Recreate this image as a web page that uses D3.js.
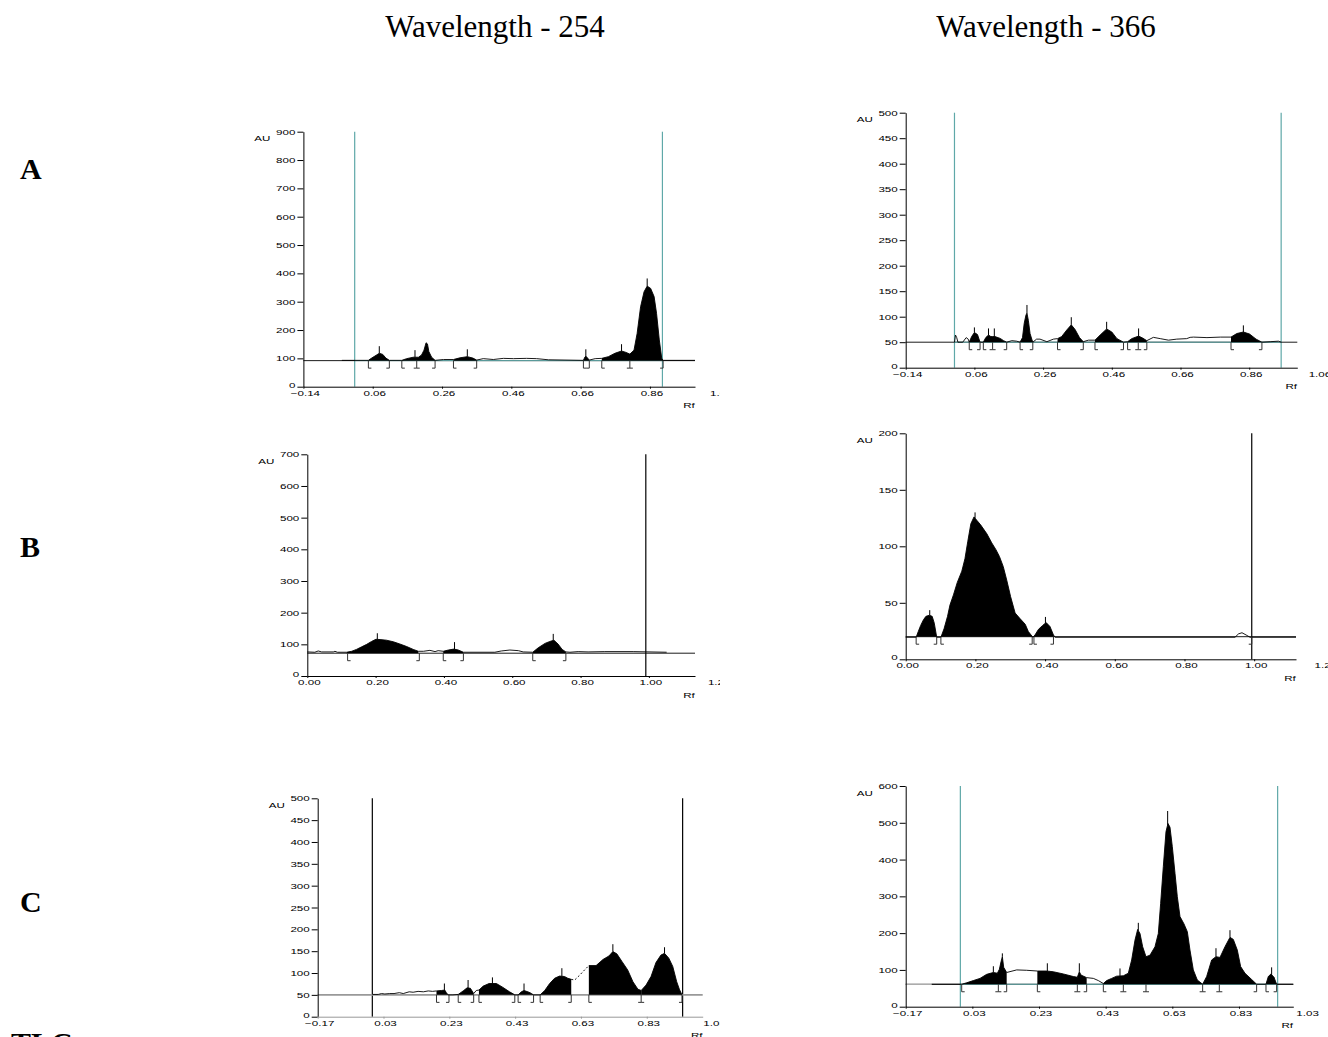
<!DOCTYPE html>
<html>
<head>
<meta charset="utf-8">
<script src="https://cdn.jsdelivr.net/npm/d3@7"></script>
<style>
  body { margin: 0; background: #fff; }
  .tick text, .lab { font-family: "Liberation Sans", Arial, sans-serif; font-size: 8px; fill: #000; }
  .head { font-family: "Liberation Serif", "Times New Roman", serif; font-size: 31px; }
  .row { font-family: "Liberation Serif", "Times New Roman", serif; font-size: 30px; font-weight: bold; }
</style>
</head>
<body>
<svg id="chart" width="1328" height="1037"></svg>
<script>
const teal = "#5fa8a8"

// ---- tick labels ----
const rfTicksA = [-0.14, 0.06, 0.26, 0.46, 0.66, 0.86, 1.06]
const rfTicksB = [0.00, 0.20, 0.40, 0.60, 0.80, 1.00, 1.20]
const rfTicksC = [-0.17, 0.03, 0.23, 0.43, 0.63, 0.83, 1.03]
const auTicksA254 = [0, 100, 200, 300, 400, 500, 600, 700, 800, 900]
const auTicksA366 = [0, 50, 100, 150, 200, 250, 300, 350, 400, 450, 500]
const auTicksB254 = [0, 100, 200, 300, 400, 500, 600, 700]
const auTicksB366 = [0, 50, 100, 150, 200]
const auTicksC254 = [0, 50, 100, 150, 200, 250, 300, 350, 400, 450, 500]
const auTicksC366 = [0, 100, 200, 300, 400, 500, 600]

// ---- A, 254 nm : [Rf, AU] ----
const a254Trace = [
  [-0.029, 93], [0.0475, 93], [0.057, 101], [0.070, 111], [0.079, 118], [0.089, 114], [0.098, 101],
  [0.108, 93], [0.144, 93], [0.158, 99], [0.177, 104], [0.192, 104], [0.201, 112], [0.208, 129],
  [0.214, 155], [0.218, 151], [0.222, 124], [0.230, 104], [0.240, 93], [0.264, 96], [0.293, 96],
  [0.312, 102], [0.333, 106], [0.349, 101], [0.360, 94], [0.379, 99], [0.408, 96], [0.437, 100],
  [0.466, 99], [0.504, 100], [0.533, 99], [0.567, 95], [0.668, 93], [0.672, 104], [0.675, 108],
  [0.680, 101], [0.685, 94], [0.702, 99], [0.721, 100], [0.740, 106], [0.759, 118], [0.778, 126],
  [0.791, 121], [0.802, 115], [0.814, 129], [0.823, 188], [0.833, 282], [0.843, 335], [0.852, 355],
  [0.862, 347], [0.872, 318], [0.879, 259], [0.887, 165], [0.894, 100], [0.898, 93], [0.990, 93]
]
const a254Fills = [[0.0475, 0.108], [0.144, 0.240], [0.293, 0.360], [0.668, 0.685], [0.721, 0.898]]
const a254Peaks = [[0.079, 143], [0.182, 129], [0.333, 132], [0.675, 132], [0.778, 150], [0.852, 382]]
const a254Marks = [[0.0475, "s"], [0.108, "e"], [0.144, "s"], [0.187, "m"], [0.240, "e"], [0.293, "s"],
  [0.360, "e"], [0.668, "s"], [0.685, "e"], [0.721, "s"], [0.802, "m"], [0.898, "e"]]
const a254Lines = [0.008, 0.896]

// ---- A, 366 nm ----
const a366Trace = [
  [0.002, 50], [0.005, 64], [0.0085, 59], [0.012, 50], [0.026, 50], [0.036, 59], [0.042, 56],
  [0.045, 50], [0.052, 61], [0.060, 69], [0.069, 65], [0.0765, 50], [0.086, 50], [0.093, 59],
  [0.101, 64], [0.108, 61], [0.113, 61], [0.120, 61], [0.135, 57.5], [0.145, 53], [0.154, 50],
  [0.169, 53], [0.183, 52], [0.193, 50], [0.200, 59], [0.205, 87], [0.210, 103], [0.213, 107],
  [0.217, 93], [0.222, 67], [0.227, 56], [0.230, 50], [0.241, 56], [0.251, 56], [0.271, 51],
  [0.290, 56], [0.302, 57], [0.314, 61], [0.329, 74], [0.342, 84], [0.353, 75], [0.366, 59],
  [0.377, 51], [0.392, 54], [0.411, 54], [0.426, 64], [0.445, 76], [0.460, 70], [0.475, 57],
  [0.494, 50], [0.506, 51], [0.518, 57], [0.538, 62], [0.550, 58], [0.562, 53], [0.581, 59.5],
  [0.601, 57], [0.625, 54], [0.649, 56], [0.678, 57], [0.688, 59.5], [0.698, 60], [0.737, 59],
  [0.776, 60], [0.807, 60], [0.824, 67], [0.843, 70], [0.861, 66], [0.880, 56], [0.897, 50],
  [0.921, 51], [0.945, 52], [0.953, 50]
]
const a366Fills = [[0.045, 0.0765], [0.086, 0.154], [0.193, 0.230], [0.302, 0.377], [0.411, 0.494],
  [0.506, 0.562], [0.807, 0.897]]
const a366Peaks = [[0.060, 79], [0.101, 77], [0.118, 77], [0.213, 123], [0.342, 99], [0.445, 90],
  [0.538, 77], [0.843, 83]]
const a366Marks = [[0.045, "s"], [0.0765, "e"], [0.086, "s"], [0.113, "m"], [0.154, "e"], [0.193, "s"],
  [0.230, "e"], [0.302, "s"], [0.377, "e"], [0.411, "s"], [0.494, "e"], [0.506, "s"], [0.537, "m"],
  [0.562, "e"], [0.807, "s"], [0.897, "e"]]
const a366Lines = [0.002, 0.953]

// ---- B, 254 nm ----
const b254Trace = [
  [0.000, 76], [0.022, 75], [0.032, 79], [0.042, 76], [0.076, 76], [0.081, 78], [0.088, 75],
  [0.115, 75], [0.130, 78], [0.144, 84], [0.159, 92], [0.174, 100], [0.188, 109], [0.201, 116],
  [0.213, 115], [0.232, 113], [0.252, 108], [0.271, 101], [0.291, 93], [0.310, 84], [0.325, 78],
  [0.340, 78], [0.359, 81], [0.374, 77], [0.383, 80], [0.398, 78], [0.413, 82], [0.429, 85],
  [0.442, 82], [0.457, 75], [0.549, 75], [0.568, 79], [0.593, 82], [0.618, 80], [0.632, 76],
  [0.660, 75], [0.676, 89], [0.696, 103], [0.710, 109], [0.722, 113], [0.734, 101], [0.746, 84],
  [0.757, 76], [0.769, 75], [0.793, 77], [0.822, 76], [0.871, 77], [0.954, 77], [1.052, 75]
]
const b254Fills = [[0.115, 0.325], [0.398, 0.457], [0.660, 0.757]]
const b254Peaks = [[0.205, 135], [0.431, 107], [0.720, 133]]
const b254Marks = [[0.118, "s"], [0.328, "e"], [0.398, "s"], [0.457, "e"], [0.660, "s"], [0.757, "e"]]
const b254Lines = [0.991]

// ---- B, 366 nm ----
const b366Trace = [
  [0.000, 19.5], [0.030, 19.5], [0.036, 24.5], [0.043, 30], [0.051, 35], [0.058, 38], [0.068, 39],
  [0.076, 38], [0.082, 32], [0.089, 19.5], [0.101, 19.5], [0.110, 27], [0.120, 38], [0.127, 48],
  [0.137, 57], [0.148, 68], [0.161, 78], [0.170, 89], [0.178, 104], [0.187, 120], [0.196, 126],
  [0.204, 123], [0.215, 119], [0.233, 111], [0.247, 103], [0.259, 97], [0.269, 91], [0.280, 82],
  [0.290, 70], [0.301, 55.5], [0.314, 41], [0.328, 36], [0.343, 31], [0.352, 24.5], [0.365, 19.5],
  [0.371, 21.5], [0.381, 26.5], [0.393, 30], [0.403, 32.5], [0.414, 29], [0.424, 21.5], [0.429, 19.5],
  [0.945, 19.5], [0.955, 22.5], [0.965, 23.5], [0.977, 21.5], [0.988, 19.5], [1.120, 19.5]
]
const b366Fills = [[0.030, 0.089], [0.101, 0.365], [0.365, 0.429]]
const b366Peaks = [[0.069, 43.5], [0.199, 130], [0.401, 37.5]]
const b366Marks = [[0.030, "s"], [0.089, "e"], [0.101, "s"], [0.363, "e"], [0.368, "s"], [0.424, "e"], [0.993, "e"]]
const b366Lines = [0.993]

// ---- C, 254 nm ----
const c254Trace = [
  [-0.004, 51], [0.014, 51], [0.024, 53], [0.034, 52], [0.049, 53], [0.062, 53], [0.078, 55],
  [0.090, 53], [0.108, 57], [0.120, 56], [0.135, 58], [0.151, 57], [0.166, 59], [0.179, 58],
  [0.191, 59], [0.206, 60], [0.216, 61], [0.221, 55], [0.226, 50], [0.241, 50], [0.257, 51],
  [0.272, 59], [0.284, 66], [0.294, 65], [0.304, 53], [0.312, 60], [0.320, 61], [0.333, 70],
  [0.351, 76], [0.373, 76], [0.393, 67], [0.413, 57], [0.429, 50], [0.439, 50], [0.449, 57],
  [0.457, 60], [0.472, 56], [0.486, 50], [0.506, 50], [0.520, 60], [0.535, 76], [0.550, 88],
  [0.565, 93], [0.580, 92], [0.590, 88], [0.6005, 85.5], [0.611, 84], [0.626, 95], [0.641, 107],
  [0.654, 117], [0.676, 117], [0.697, 131], [0.715, 139], [0.727, 149], [0.739, 144], [0.755, 126],
  [0.772, 107], [0.788, 80], [0.803, 63], [0.813, 60], [0.828, 72.5], [0.843, 92], [0.858, 124],
  [0.873, 141], [0.884, 145], [0.897, 134], [0.909, 115], [0.921, 80], [0.929, 63], [0.937, 50]
]
const c254Fills = [[0.191, 0.226], [0.257, 0.304], [0.320, 0.429], [0.439, 0.486], [0.506, 0.6005],
  [0.654, 0.813], [0.813, 0.937]]
const c254Peaks = [[0.215, 76], [0.287, 84], [0.361, 90], [0.457, 76], [0.572, 111], [0.727, 166], [0.884, 159]]
const c254Marks = [[0.191, "s"], [0.229, "e"], [0.257, "s"], [0.304, "e"], [0.320, "s"], [0.429, "e"],
  [0.439, "s"], [0.486, "e"], [0.506, "s"], [0.6005, "e"], [0.654, "s"], [0.813, "m"], [0.937, "e"]]
const c254Dashed = [[0.6005, 0.654]]
const c254Lines = [-0.004, 0.939]

// ---- C, 366 nm ----
const c366Trace = [
  [-0.092, 61], [-0.002, 61], [0.013, 65], [0.033, 71], [0.053, 77], [0.073, 88], [0.093, 93],
  [0.105, 91], [0.111, 101.5], [0.116, 122], [0.120, 136], [0.124, 107], [0.133, 93], [0.163, 100],
  [0.193, 99], [0.225, 97], [0.253, 97], [0.273, 95], [0.303, 89], [0.333, 82], [0.345, 80],
  [0.351, 95], [0.356, 86], [0.373, 79], [0.393, 77], [0.408, 71], [0.423, 63], [0.433, 71],
  [0.448, 77], [0.463, 83], [0.483, 84], [0.498, 91], [0.508, 127], [0.518, 181], [0.526, 210],
  [0.533, 199], [0.541, 163], [0.551, 136], [0.563, 140], [0.578, 163], [0.588, 199], [0.595, 281],
  [0.603, 381], [0.611, 476], [0.617, 498], [0.623, 488], [0.630, 435], [0.638, 363], [0.645, 299],
  [0.653, 245], [0.665, 225], [0.675, 204], [0.683, 154], [0.693, 100], [0.705, 72.5], [0.721, 61],
  [0.733, 82], [0.748, 127], [0.761, 136], [0.773, 134], [0.788, 163], [0.803, 188.5], [0.813, 183],
  [0.825, 154], [0.835, 109], [0.848, 91], [0.868, 74], [0.883, 61], [0.911, 61], [0.918, 82],
  [0.926, 89], [0.935, 80], [0.943, 61], [0.993, 61]
]
const c366Fills = [[-0.002, 0.133], [0.225, 0.373], [0.423, 0.721], [0.721, 0.883], [0.911, 0.943]]
const c366Peaks = [[0.093, 110], [0.120, 145], [0.255, 118], [0.351, 118], [0.473, 104], [0.528, 228],
  [0.616, 532], [0.761, 159], [0.803, 208], [0.928, 107]]
const c366Marks = [[-0.002, "s"], [0.108, "m"], [0.133, "e"], [0.225, "s"], [0.345, "m"], [0.373, "e"],
  [0.423, "s"], [0.483, "m"], [0.551, "m"], [0.721, "m"], [0.771, "m"], [0.883, "e"], [0.911, "s"], [0.943, "e"]]
const c366Lines = [-0.006, 0.946]

const panels = [
  { trace: a254Trace, fills: a254Fills, peaks: a254Peaks, marks: a254Marks, lines: a254Lines, lineColor: teal,
    xTicks: rfTicksA, yTicks: auTicksA254, base: 92, dom: [-0.14, 0.99], px: [303.4, 695], py: [386.7, 131.7], clip: 720 },
  { trace: a366Trace, fills: a366Fills, peaks: a366Peaks, marks: a366Marks, lines: a366Lines, lineColor: teal,
    xTicks: rfTicksA, yTicks: auTicksA366, base: 50, dom: [-0.14, 1.0], px: [905.7, 1297.3], py: [367.7, 112.7] },
  { trace: b254Trace, fills: b254Fills, peaks: b254Peaks, marks: b254Marks, lines: b254Lines, lineColor: "#000",
    xTicks: rfTicksB, yTicks: auTicksB254, base: 72, dom: [0, 1.135], px: [307.3, 695], py: [676, 454.3], clip: 720 },
  { trace: b366Trace, fills: b366Fills, peaks: b366Peaks, marks: b366Marks, lines: b366Lines, lineColor: "#000",
    xTicks: rfTicksB, yTicks: auTicksB366, base: 20, dom: [0, 1.12], px: [905.7, 1296], py: [659.3, 433.3] },
  { trace: c254Trace, fills: c254Fills, peaks: c254Peaks, marks: c254Marks, lines: c254Lines, lineColor: "#000",
    dashed: c254Dashed, baseColor: "#999",
    xTicks: rfTicksC, yTicks: auTicksC254, base: 50, dom: [-0.17, 1.0], px: [317.7, 702.7], py: [1016.7, 798.3], clip: 720 },
  { trace: c366Trace, fills: c366Fills, peaks: c366Peaks, marks: c366Marks, lines: c366Lines, lineColor: teal,
    leftGrey: true,
    xTicks: rfTicksC, yTicks: auTicksC366, base: 61, dom: [-0.17, 0.993], px: [905.7, 1293.3], py: [1006.7, 786] }
]

const svg = d3.select("#chart")
const defs = svg.append("defs")
const sx = 1.45  // the scanned labels are stretched sideways

function auAt(trace, rf) {
  const i = d3.bisector(d => d[0]).left(trace, rf)
  if (i <= 0) return trace[0][1]
  if (i >= trace.length) return trace[trace.length - 1][1]
  const [x0, y0] = trace[i - 1], [x1, y1] = trace[i]
  return y0 + (y1 - y0) * (rf - x0) / (x1 - x0)
}

panels.forEach((p, i) => {
  const g = svg.append("g")
  if (p.clip) {
    defs.append("clipPath").attr("id", "clip" + i)
      .append("rect").attr("x", 0).attr("y", 0).attr("width", p.clip).attr("height", 1037)
    g.attr("clip-path", "url(#clip" + i + ")")
  }

  const x = d3.scaleLinear().domain(p.dom).range(p.px)
  const y = d3.scaleLinear().domain([0, d3.max(p.yTicks)]).range(p.py)
  const by = y(p.base)

  // vertical application limits
  g.selectAll(".vline").data(p.lines).join("line")
    .attr("x1", d => x(d)).attr("x2", d => x(d))
    .attr("y1", y.range()[1]).attr("y2", y.range()[0])
    .attr("stroke", p.lineColor).attr("stroke-width", 1.2)

  // baseline
  g.append("line")
    .attr("x1", p.px[0]).attr("x2", p.px[1]).attr("y1", by).attr("y2", by)
    .attr("stroke", p.baseColor || "#000").attr("stroke-width", p.baseColor ? 1.6 : 0.9)
  if (p.leftGrey) {
    g.append("line")
      .attr("x1", p.px[0]).attr("x2", x(p.trace[0][0])).attr("y1", by).attr("y2", by)
      .attr("stroke", "#fff").attr("stroke-width", 1.2)
    g.append("line")
      .attr("x1", p.px[0]).attr("x2", x(p.trace[0][0])).attr("y1", by).attr("y2", by)
      .attr("stroke", "#999").attr("stroke-width", 1)
  }
  if (p.lineColor === teal) {
    g.append("line")
      .attr("x1", x(p.lines[0])).attr("x2", x(p.lines[1])).attr("y1", by).attr("y2", by)
      .attr("stroke", teal).attr("stroke-width", 1)
  }

  // integrated peaks
  const area = d3.area().x(d => x(d[0])).y0(by).y1(d => y(d[1]))
  g.selectAll(".fill").data(p.fills).join("path")
    .attr("d", ([a, b]) => {
      const pts = [[a, auAt(p.trace, a)]]
        .concat(p.trace.filter(d => d[0] > a && d[0] < b))
        .concat([[b, auAt(p.trace, b)]])
      return area(pts)
    })
    .attr("fill", "#000")

  // trace
  const dashed = p.dashed || []
  const inGap = d => dashed.some(([a, b]) => d[0] > a && d[0] < b)
  g.append("path")
    .attr("d", d3.line().defined(d => !inGap(d)).x(d => x(d[0])).y(d => y(d[1]))(p.trace))
    .attr("fill", "none").attr("stroke", "#000").attr("stroke-width", 0.9)
  dashed.forEach(([a, b]) => {
    g.append("path")
      .attr("d", d3.line().x(d => x(d[0])).y(d => y(d[1]))(p.trace.filter(d => d[0] >= a && d[0] <= b)))
      .attr("fill", "none").attr("stroke", "#000").attr("stroke-width", 0.9)
      .attr("stroke-dasharray", "2,2")
  })

  // peak maximum markers
  g.selectAll(".peak").data(p.peaks).join("line")
    .attr("x1", d => x(d[0])).attr("x2", d => x(d[0]))
    .attr("y1", d => y(auAt(p.trace, d[0]))).attr("y2", d => y(d[1]))
    .attr("stroke", "#000").attr("stroke-width", 1)

  // peak start / end brackets
  g.selectAll(".mark").data(p.marks).join("path")
    .attr("d", ([rf, t]) => {
      const mx = x(rf), y1 = by + 7.5
      let d = "M" + mx + "," + by + "V" + y1
      if (t === "s" || t === "m") d += "M" + mx + "," + y1 + "h3"
      if (t === "e" || t === "m") d += "M" + mx + "," + y1 + "h-3"
      return d
    })
    .attr("fill", "none").attr("stroke", "#333").attr("stroke-width", 1)

  // axes
  const yAxis = g.append("g").attr("transform", "translate(" + p.px[0] + ",0)")
    .call(d3.axisLeft(y).tickValues(p.yTicks).tickSize(6).tickPadding(2).tickSizeOuter(0).tickFormat(d3.format("d")))
  yAxis.selectAll("text").attr("transform", "scale(" + sx + ",1)").attr("x", -8 / sx)
    .attr("y", d => d === 0 ? -2 : 0)
  const xAxis = g.append("g").attr("transform", "translate(0," + p.py[0] + ")")
    .call(d3.axisBottom(x).tickValues(p.xTicks).tickSize(2).tickPadding(1).tickSizeOuter(0).tickFormat(d3.format(".2f")))
  xAxis.selectAll("text").attr("transform", "translate(1.5,0.5) scale(" + sx + ",1)")
  xAxis.selectAll(".tick line").attr("display", d => d > p.dom[1] ? "none" : null)
  if (p.baseColor) xAxis.selectAll("path, line").attr("stroke", p.baseColor)

  g.append("text").attr("class", "lab")
    .attr("transform", "translate(" + (p.px[0] - 41) + "," + (y.range()[1] + 9.5) + ") scale(" + sx + ",1)")
    .attr("text-anchor", "middle").text("AU")
  g.append("text").attr("class", "lab")
    .attr("transform", "translate(" + (p.px[1] - 6) + "," + (p.py[0] + 21.5) + ") scale(" + sx + ",1)")
    .attr("text-anchor", "middle").text("Rf")
})

// column headers and row letters
svg.append("text").attr("class", "head").attr("x", 495).attr("y", 37).attr("text-anchor", "middle").text("Wavelength - 254")
svg.append("text").attr("class", "head").attr("x", 1046).attr("y", 37).attr("text-anchor", "middle").text("Wavelength - 366")
const rowLetters = ["A", "B", "C"]
const rowY = [179, 557, 912]
svg.selectAll(".row").data(rowLetters).join("text").attr("class", "row")
  .attr("x", 20).attr("y", (d, i) => rowY[i]).text(d => d)
svg.append("text").attr("class", "row").attr("x", 11).attr("y", 1053).text("TLC")
</script>
</body>
</html>
